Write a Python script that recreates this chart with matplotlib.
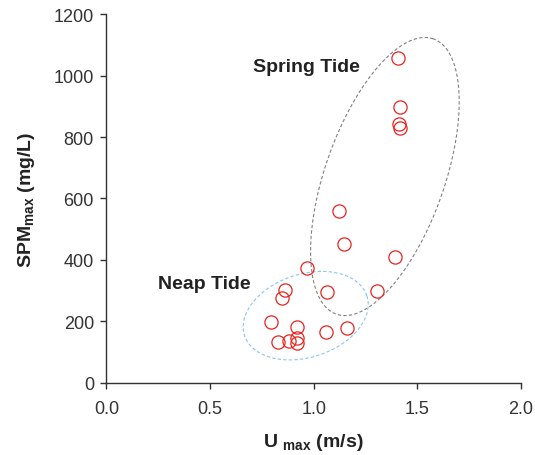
import numpy as np
import matplotlib
matplotlib.use("Agg")
import matplotlib.pyplot as plt

plt.rcParams['font.family'] = ['Liberation Sans', 'DejaVu Sans']
plt.rcParams['mathtext.fontset'] = 'custom'
plt.rcParams['mathtext.rm'] = 'Liberation Sans:bold'
plt.rcParams['mathtext.bf'] = 'Liberation Sans:bold'

# peak current speed (m/s) vs peak SPM (mg/L)
u_max = [1.408, 1.416, 1.412, 1.416, 1.123, 1.146, 1.393, 0.969,
         0.862, 0.847, 1.065, 1.303, 0.792, 0.918, 1.059, 1.162,
         0.829, 0.879, 0.918, 0.919]
spm_max = [1057, 898, 842, 829, 560, 453, 409, 374,
           303, 277, 295, 299, 198, 183, 167, 178,
           132, 136, 145, 129]

# group outlines: centre, major and minor half-axis vectors (data units)
spring_centre = (1.343, 671.5)
spring_major = (0.234, 447.8)
spring_minor = (-0.2716, 64.4)
neap_centre = (0.961, 218.9)
neap_major = (0.2952, 64.4)
neap_minor = (-0.0617, 128.8)

fig = plt.figure(figsize=(5.35, 4.56), dpi=100)
ax = fig.add_axes([0.199, 0.158, 0.775, 0.809])

t = np.linspace(0, 2 * np.pi, 400)
for c, a, b, col in [(spring_centre, spring_major, spring_minor, '#808080'),
                     (neap_centre, neap_major, neap_minor, '#8cc4ec')]:
    ex = c[0] + a[0] * np.cos(t) + b[0] * np.sin(t)
    ey = c[1] + a[1] * np.cos(t) + b[1] * np.sin(t)
    ax.plot(ex, ey, color=col, lw=0.8, ls=(0, (3, 2)))

ax.plot(u_max, spm_max, 'o', mfc='none', mec='#e8231f', mew=0.9, ms=9.5)

ax.text(0.707, 1031, 'Spring Tide', fontsize=14, fontweight='bold',
        color='#222222', va='center')
ax.text(0.248, 322, 'Neap Tide', fontsize=14, fontweight='bold',
        color='#222222', va='center')

ax.set_xlim(0, 2.0)
ax.set_ylim(0, 1200)
ax.set_xticks([0.0, 0.5, 1.0, 1.5, 2.0])
ax.set_xticklabels(['0.0', '0.5', '1.0', '1.5', '2.0'])
ax.set_yticks(range(0, 1201, 200))
ax.spines.right.set_visible(False)
ax.spines.top.set_visible(False)
for s in ['left', 'bottom']:
    ax.spines[s].set_color('#333333')
    ax.spines[s].set_linewidth(1.0)
ax.tick_params(direction='out', length=4, width=1, color='#333333',
               labelsize=13, labelcolor='#333333')
ax.tick_params(axis='x', pad=8)
ax.tick_params(axis='y', pad=5)
ax.set_xlabel(r'U $_{\mathrm{max}}$ (m/s)', fontsize=14, fontweight='bold',
              color='#222222', labelpad=10)
ax.set_ylabel(r'SPM$_{\mathrm{max}}$ (mg/L)', fontsize=14, fontweight='bold',
              color='#222222', labelpad=12)

fig.savefig('out.png', dpi=100)
